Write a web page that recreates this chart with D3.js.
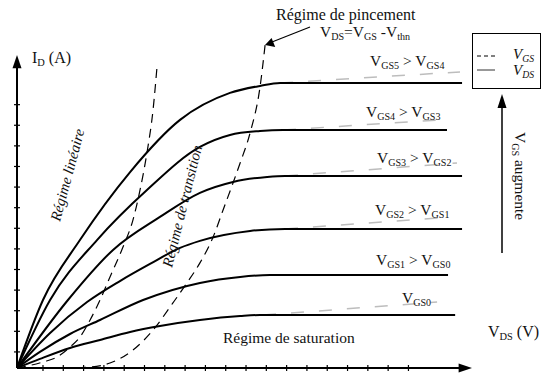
<!DOCTYPE html>
<html>
<head>
<meta charset="utf-8">
<script src="https://cdn.jsdelivr.net/npm/d3@7/dist/d3.min.js"></script>
<style>
  html, body { margin: 0; padding: 0; background: #fff; }
  svg { display: block; }
  text { font-family: "Liberation Serif", "DejaVu Serif", serif; fill: #111; }
</style>
</head>
<body>
<svg id="chart" width="543" height="376"></svg>
<script>
// Output characteristics I_D(V_DS) of an n-MOSFET for increasing V_GS (arbitrary units)
const vgsNames = ["GS0", "GS1", "GS2", "GS3", "GS4", "GS5"];

// Drain current curves, one pair of arrays per gate voltage
const vdsGS0 = [0, 1.13, 2.61, 4.09, 5.57, 7.04, 9.01, 10.99, 11.97, 21.58];
const idGS0  = [0, 0.44, 0.97, 1.36, 1.75, 2.04, 2.33, 2.52, 2.57, 2.57];
const vdsGS1 = [0, 1.13, 2.61, 4.09, 6.21, 9.01, 10.99, 12.46, 21.23];
const idGS1  = [0, 0.78, 1.65, 2.33, 3.30, 4.13, 4.42, 4.51, 4.51];
const vdsGS2 = [0, 1.63, 3.45, 5.07, 6.55, 8.03, 9.01, 11.48, 13.20, 21.92];
const idGS2  = [0, 1.70, 3.20, 4.22, 5.05, 5.83, 6.17, 6.65, 6.75, 6.75];
const vdsGS3 = [0, 2.51, 4.73, 7.04, 9.01, 10.64, 12.32, 13.20, 21.92];
const idGS3  = [0, 3.30, 5.73, 7.33, 8.50, 9.03, 9.27, 9.32, 9.32];
const vdsGS4 = [0, 1.63, 3.94, 6.40, 9.01, 10.49, 11.97, 13.10, 21.18];
const idGS4  = [0, 3.30, 6.21, 8.64, 10.73, 11.31, 11.50, 11.55, 11.55];
const vdsGS5 = [0, 1.28, 3.10, 5.57, 8.03, 10.49, 11.97, 12.96, 21.92];
const idGS5  = [0, 3.30, 6.21, 9.51, 12.04, 13.35, 13.69, 13.83, 13.83];

// Saturation slope (channel-length modulation), start and end of each segment
const slopeGS  = ["GS0", "GS2", "GS3", "GS4", "GS5"];
const slopeV0  = [12.12, 13.20, 13.20, 13.10, 12.96];
const slopeI0  = [2.57, 6.75, 9.32, 11.55, 13.83];
const slopeV1  = [20.69, 21.43, 21.67, 20.84, 21.82];
const slopeI1  = [3.20, 7.33, 9.95, 12.04, 14.37];

// Boundary of the linear regime
const vdsLin = [0, 1.28, 1.97, 2.61, 3.10, 3.60, 4.09, 4.58, 5.22, 5.71, 6.06, 6.40, 6.70, 6.90];
const idLin  = [0, 0.29, 0.53, 1.02, 1.50, 2.33, 3.30, 4.42, 5.87, 7.18, 8.64, 10.44, 12.52, 14.66];
// Pinch-off boundary V_DS = V_GS - V_thn
const vdsPinch = [0, 2.12, 3.60, 4.58, 5.71, 6.70, 7.68, 8.37, 9.01, 9.66, 10.15, 10.64, 10.99, 11.48, 11.97, 12.22];
const idPinch  = [0, 0, 0.05, 0.24, 0.87, 1.84, 3.16, 4.13, 5.10, 6.36, 7.67, 8.98, 9.95, 11.41, 13.64, 15.68];

// Axis graduations (no numeric labels)
const xTicks = d3.range(1.28, 19.5, 1);
const yTicks = d3.range(0.78, 12.9, 1);

const svg = d3.select("#chart");
const x = d3.scaleLinear().domain([0, 22.41]).range([17, 472]);
const y = d3.scaleLinear().domain([0, 15.19]).range([368, 55]);

const zip = (a, b) => a.map((v, i) => [v, b[i]]);
const line = d3.line().x(d => x(d[0])).y(d => y(d[1])).curve(d3.curveMonotoneX);

// Grey dashed saturation slopes, drawn under the curves
svg.append("g").selectAll("line").data(slopeGS).join("line")
  .attr("x1", (d, i) => x(slopeV0[i])).attr("y1", (d, i) => y(slopeI0[i]))
  .attr("x2", (d, i) => x(slopeV1[i])).attr("y2", (d, i) => y(slopeI1[i]))
  .attr("stroke", "#bdbdbd").attr("stroke-width", 1.5)
  .attr("stroke-dasharray", "13,15");

// I_D(V_DS) curves
const curves = [
  zip(vdsGS0, idGS0), zip(vdsGS1, idGS1), zip(vdsGS2, idGS2),
  zip(vdsGS3, idGS3), zip(vdsGS4, idGS4), zip(vdsGS5, idGS5)
];
svg.append("g").selectAll("path").data(curves).join("path")
  .attr("d", line).attr("fill", "none")
  .attr("stroke", "#000").attr("stroke-width", 2);

// Regime boundaries
svg.append("g").selectAll("path")
  .data([zip(vdsLin, idLin), zip(vdsPinch, idPinch)]).join("path")
  .attr("d", line).attr("fill", "none")
  .attr("stroke", "#000").attr("stroke-width", 1.2)
  .attr("stroke-dasharray", "9,6");

// Axes with arrowheads
const axes = svg.append("g");
axes.append("line").attr("x1", x(0)).attr("y1", y(0)).attr("x2", x(0)).attr("y2", y(14.6))
  .attr("stroke", "#000").attr("stroke-width", 2);
axes.append("line").attr("x1", x(0)).attr("y1", y(0)).attr("x2", x(21.8)).attr("y2", y(0))
  .attr("stroke", "#000").attr("stroke-width", 2);
axes.append("path")
  .attr("d", `M${x(0)},${y(15.19)} L${x(0) - 4.5},${y(14.55)} L${x(0) + 4.5},${y(14.55)} Z`);
axes.append("path")
  .attr("d", `M${x(22.41)},${y(0)} L${x(21.75)},${y(0) - 4.5} L${x(21.75)},${y(0) + 4.5} Z`);
axes.append("g").selectAll("line").data(xTicks).join("line")
  .attr("x1", d => x(d)).attr("x2", d => x(d))
  .attr("y1", y(0) - 3).attr("y2", y(0) + 3)
  .attr("stroke", "#000").attr("stroke-width", 1.2);
axes.append("g").selectAll("line").data(yTicks).join("line")
  .attr("y1", d => y(d)).attr("y2", d => y(d))
  .attr("x1", x(0) - 3).attr("x2", x(0) + 3)
  .attr("stroke", "#000").attr("stroke-width", 1.2);

// Text with subscripts: parts = [[text, isSub], ...]
function rich(g, parts, size, italic) {
  const t = g.append("text").attr("font-size", size);
  if (italic) t.attr("font-style", "italic");
  let sub = false;
  parts.forEach(([s, isSub]) => {
    const sp = t.append("tspan").text(s);
    if (isSub) sp.attr("font-size", size * 0.65);
    if (isSub !== sub) sp.attr("dy", isSub ? size * 0.18 : -size * 0.18);
    sub = isSub;
  });
  return t;
}

// Axis titles
rich(svg, [["I", false], ["D", true], [" (A)", false]], 16).attr("x", 32).attr("y", 63);
rich(svg, [["V", false], ["DS", true], [" (V)", false]], 16).attr("x", 488).attr("y", 337);

// Curve labels
const pairLabels = [
  { a: "GS5", b: "GS4", lx: 370, ly: 66 },
  { a: "GS4", b: "GS3", lx: 366, ly: 117 },
  { a: "GS3", b: "GS2", lx: 377, ly: 163 },
  { a: "GS2", b: "GS1", lx: 375, ly: 215 },
  { a: "GS1", b: "GS0", lx: 376, ly: 265 }
];
pairLabels.forEach(p => {
  rich(svg, [["V", false], [p.a, true], [" > V", false], [p.b, true]], 15.5)
    .attr("x", p.lx).attr("y", p.ly);
});
rich(svg, [["V", false], [vgsNames[0], true]], 15.5).attr("x", 402).attr("y", 303);

// Regime annotations
svg.append("text").attr("x", 276).attr("y", 20).attr("font-size", 16).text("Régime de pincement");
rich(svg, [["V", false], ["DS", true], ["=V", false], ["GS", true], [" -V", false], ["thn", true]], 15.5)
  .attr("x", 320).attr("y", 37);
svg.append("text").attr("x", 223).attr("y", 343).attr("font-size", 15.5).text("Régime de saturation");
svg.append("text").attr("font-size", 15).attr("font-style", "italic")
  .attr("transform", "translate(60,222) rotate(-75)").text("Régime linéaire");
svg.append("text").attr("font-size", 15).attr("font-style", "italic")
  .attr("transform", "translate(172,268) rotate(-76)").text("Régime de transition");

// Pinch-off pointer
svg.append("line").attr("x1", 310).attr("y1", 27).attr("x2", 272).attr("y2", 42)
  .attr("stroke", "#000").attr("stroke-width", 1.2);
svg.append("path").attr("d", "M265,45 L271.6,37.9 L275.2,46.9 Z");

// V_GS increasing arrow
svg.append("line").attr("x1", 502).attr("y1", 253).attr("x2", 502).attr("y2", 106)
  .attr("stroke", "#000").attr("stroke-width", 1.5);
svg.append("path").attr("d", "M502,94 L497.5,108 L506.5,108 Z");
rich(svg, [["V", false], ["GS", true], [" augmente", false]], 15.5)
  .attr("transform", "translate(515,132) rotate(90)");

// Legend
const lg = svg.append("g");
lg.append("rect").attr("x", 472.5).attr("y", 33.5).attr("width", 68).attr("height", 55)
  .attr("fill", "none").attr("stroke", "#000").attr("stroke-width", 1);
lg.append("line").attr("x1", 477).attr("x2", 495).attr("y1", 56).attr("y2", 56)
  .attr("stroke", "#000").attr("stroke-width", 1).attr("stroke-dasharray", "4,3");
lg.append("line").attr("x1", 477).attr("x2", 495).attr("y1", 70).attr("y2", 70)
  .attr("stroke", "#333").attr("stroke-width", 1);
rich(lg, [["V", false], ["GS", true]], 15, true).attr("x", 513).attr("y", 59);
rich(lg, [["V", false], ["DS", true]], 15, true).attr("x", 513).attr("y", 75);
</script>
</body>
</html>
